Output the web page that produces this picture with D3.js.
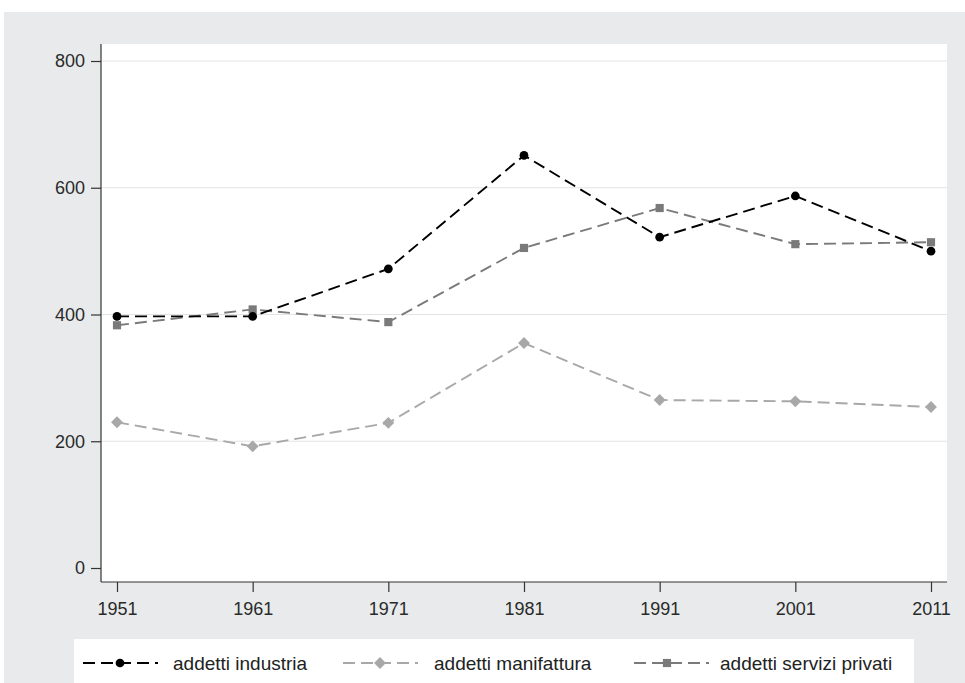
<!DOCTYPE html>
<html>
<head>
<meta charset="utf-8">
<script src="https://cdn.jsdelivr.net/npm/d3@7"></script>
<style>
  body { margin: 0; background: #fff; }
  text { font-family: "Liberation Sans", Arial, sans-serif; }
</style>
</head>
<body>
<div id="chart"></div>
<script>
// data
const years = [1951, 1961, 1971, 1981, 1991, 2001, 2011];
const industria = [397, 397, 472, 651, 522, 587, 500];
const manifattura = [230, 192, 229, 355, 265, 263, 254];
const servizi = [383, 408, 388, 505, 568, 511, 514];
const yTicks = [0, 200, 400, 600, 800];

const width = 965, height = 683;

const svg = d3.select('#chart').append('svg')
    .attr('width', width)
    .attr('height', height);

// grey frame and white plot region
svg.append('rect').attr('x', 4).attr('y', 12)
    .attr('width', width - 4).attr('height', height - 12)
    .attr('fill', '#e8eaec');
svg.append('rect').attr('x', 101).attr('y', 44)
    .attr('width', 846).attr('height', 538)
    .attr('fill', '#fff');

let x = d3.scaleLinear().domain([1951, 2011]).range([117, 931]);
let y = d3.scaleLinear().domain([0, 800]).range([568, 61]);

// gridlines
svg.append('g').selectAll('line')
    .data(yTicks.filter(d => d > 0))
    .enter().append('line')
    .attr('x1', 101).attr('x2', 947)
    .attr('y1', d => y(d)).attr('y2', d => y(d))
    .attr('stroke', '#e3e3e3')
    .attr('stroke-width', 1.2);

// axes
let yAxis = svg.append('g')
    .attr('transform', 'translate(101,0)')
    .call(d3.axisLeft(y).tickValues(yTicks).tickSize(10).tickPadding(6).tickSizeOuter(0));
let xAxis = svg.append('g')
    .attr('transform', 'translate(0,582)')
    .call(d3.axisBottom(x).tickValues(years).tickFormat(d3.format('d')).tickSize(10).tickPadding(10).tickSizeOuter(0));

[yAxis, xAxis].forEach(a => {
    a.select('.domain').remove();
    a.selectAll('line').attr('stroke', '#333').attr('stroke-width', 1.2);
    a.selectAll('text').attr('fill', '#2a2a2a').style('font-size', '18px');
});
svg.append('line').attr('x1', 101).attr('x2', 101).attr('y1', 44).attr('y2', 582)
    .attr('stroke', '#333').attr('stroke-width', 1.2);
svg.append('line').attr('x1', 101).attr('x2', 947).attr('y1', 582).attr('y2', 582)
    .attr('stroke', '#333').attr('stroke-width', 1.2);

const series = [
    {name: 'addetti industria', values: industria, color: '#000', symbol: d3.symbolCircle, size: 60},
    {name: 'addetti manifattura', values: manifattura, color: '#a8a8a8', symbol: d3.symbolDiamond2, size: 90},
    {name: 'addetti servizi privati', values: servizi, color: '#7a7a7a', symbol: d3.symbolSquare2, size: 85}
];

let line = d3.line()
    .x((d, i) => x(years[i]))
    .y(d => y(d));

// draw order: manifattura, servizi, industria on top
[series[1], series[2], series[0]].forEach(s => {
    svg.append('path')
        .datum(s.values)
        .attr('d', line)
        .attr('fill', 'none')
        .attr('stroke', s.color)
        .attr('stroke-width', 1.9)
        .attr('stroke-dasharray', '12,6');
    svg.append('g').selectAll('path')
        .data(s.values)
        .enter().append('path')
        .attr('transform', (d, i) => 'translate(' + x(years[i]) + ',' + y(d) + ')')
        .attr('d', d3.symbol().type(s.symbol).size(s.size))
        .attr('fill', s.color);
});

// legend
let legend = svg.append('g');
legend.append('rect').attr('x', 74).attr('y', 639)
    .attr('width', 840).attr('height', 60)
    .attr('fill', '#fff');
const legendX = [83, 343, 634];
series.forEach((s, i) => {
    let g = legend.append('g').attr('transform', 'translate(' + legendX[i] + ',663)');
    g.append('line').attr('x1', 0).attr('x2', 75).attr('y1', 0).attr('y2', 0)
        .attr('stroke', s.color).attr('stroke-width', 1.9)
        .attr('stroke-dasharray', '12,6');
    g.append('path').attr('transform', 'translate(' + (i == 2 ? 33 : 37) + ',0)')
        .attr('d', d3.symbol().type(s.symbol).size(s.size))
        .attr('fill', s.color);
    g.append('text').attr('x', i == 0 ? 90 : (i == 1 ? 91 : 86)).attr('y', 0)
        .attr('dy', '0.35em')
        .attr('fill', '#222')
        .style('font-size', '19px')
        .text(s.name);
});
</script>
</body>
</html>
